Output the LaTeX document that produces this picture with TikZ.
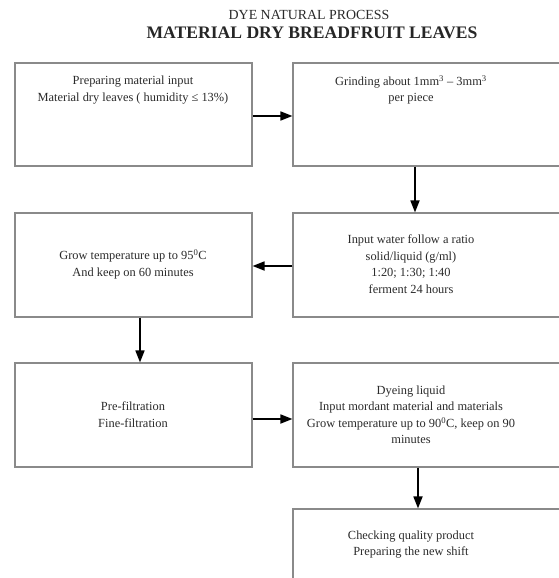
\documentclass[tikz,border=0pt]{standalone}
\usepackage{fontspec}
\setmainfont{Liberation Serif}
\usetikzlibrary{arrows.meta}
\definecolor{boxgray}{HTML}{8A8A8A}
\definecolor{txtgray}{HTML}{2A2A2A}
\tikzset{
  stepbox/.style={draw=boxgray, line width=1.1pt, inner sep=0pt, minimum height=104pt},
  leftbox/.style={stepbox, minimum width=237pt},
  rightbox/.style={stepbox, minimum width=300pt},
  steptext/.style={anchor=center, align=center, text=txtgray, inner sep=0pt,
    font=\fontsize{12.4}{16.5}\selectfont},
  flow/.style={line width=1.7pt, -{Triangle[length=12pt,width=9pt]}},
}
\begin{document}
\begin{tikzpicture}[x=1pt,y=-1pt]
\useasboundingbox (0,0) rectangle (559,578);
\clip (0,0) rectangle (559,578);
% titles
\node[text=txtgray, font=\fontsize{13.9}{15}\selectfont] (t1) at (309,15) {DYE NATURAL PROCESS};
\node[text=black!85, font=\bfseries\fontsize{17.6}{19}\selectfont] (t2) at (312,33) {MATERIAL DRY BREADFRUIT LEAVES};
% boxes
\node[leftbox, minimum height=103pt] (b1) at (133.5,114.5) {};
\node[rightbox, minimum height=103pt] (b2) at (443,114.5) {};
\node[rightbox] (b3) at (443,265) {};
\node[leftbox] (b4) at (133.5,265) {};
\node[leftbox] (b5) at (133.5,415) {};
\node[rightbox] (b6) at (443,415) {};
\node[rightbox] (b7) at (443,561) {};
% texts
\node[steptext] (x1) at (133,90) {Preparing material input\\Material dry leaves ( humidity \char"2264{} 13\%)};
\node[steptext] (x2) at (411,90) {Grinding about 1mm\textsuperscript{3} -- 3mm\textsuperscript{3}\\per piece};
\node[steptext] (x3) at (411,264) {Input water follow a ratio\\solid/liquid (g/ml)\\1:20; 1:30; 1:40\\ferment 24 hours};
\node[steptext] (x4) at (133,264.5) {Grow temperature up to 95\textsuperscript{0}C\\And keep on 60 minutes};
\node[steptext] (x5) at (133,414.5) {Pre-filtration\\Fine-filtration};
\node[steptext] (x6) at (411,415) {Dyeing liquid\\Input mordant material and materials\\Grow temperature up to 90\textsuperscript{0}C, keep on 90\\minutes};
\node[steptext] (x7) at (411,544.5) {Checking quality product\\Preparing the new shift};
% connectors
\draw[flow] ([yshift=-1.5pt]b1.east) -- ([yshift=-1.5pt]b2.west);
\draw[flow] ([xshift=-28pt]b2.south) -- ([xshift=-28pt]b3.north);
\draw[flow] ([yshift=-1pt]b3.west) -- ([yshift=-1pt]b4.east);
\draw[flow] ([xshift=6.5pt]b4.south) -- ([xshift=6.5pt]b5.north);
\draw[flow] ([yshift=-4pt]b5.east) -- ([yshift=-4pt]b6.west);
\draw[flow] ([xshift=-25pt]b6.south) -- ([xshift=-25pt]b7.north);
\end{tikzpicture}
\end{document}
